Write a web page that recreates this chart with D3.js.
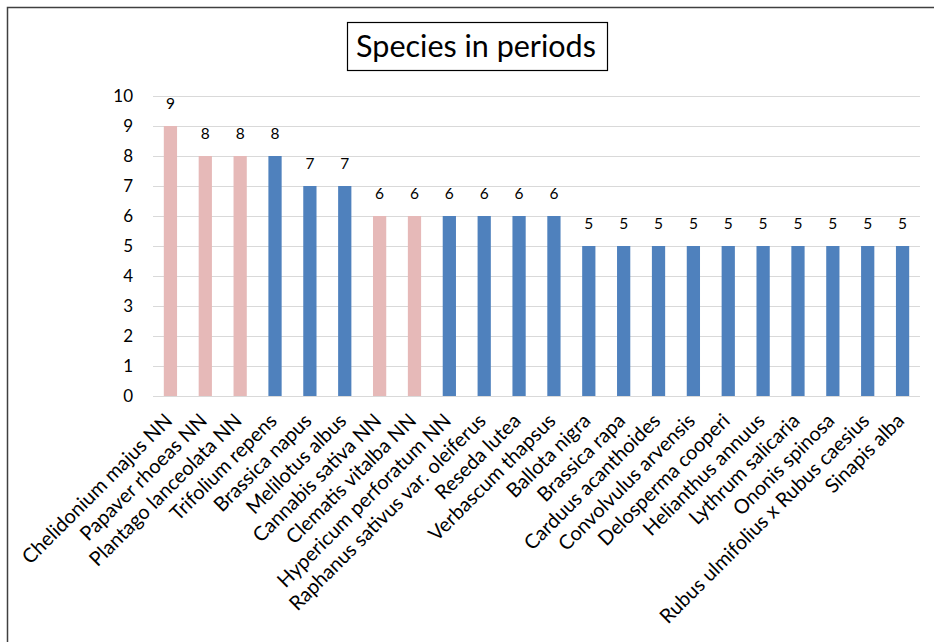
<!DOCTYPE html>
<html>
<head>
<meta charset="utf-8">
<script src="https://cdn.jsdelivr.net/npm/d3@7"></script>
<style>
  body { margin: 0; background: #fff; }
  text { font-family: Lato, "Open Sans", sans-serif; fill: #000; }
</style>
</head>
<body>
<div class="chart"></div>
<script>
// Chart data
var species = ["Chelidonium majus NN", "Papaver rhoeas NN", "Plantago lanceolata NN", "Trifolium repens",
  "Brassica napus", "Melilotus albus", "Cannabis sativa NN", "Clematis vitalba NN", "Hypericum perforatum NN",
  "Raphanus sativus var. oleiferus", "Reseda lutea", "Verbascum thapsus", "Ballota nigra", "Brassica rapa",
  "Carduus acanthoides", "Convolvulus arvensis", "Delosperma cooperi", "Helianthus annuus", "Lythrum salicaria",
  "Ononis spinosa", "Rubus ulmifolius x Rubus caesius", "Sinapis alba"];
var counts = [9, 8, 8, 8, 7, 7, 6, 6, 6, 6, 6, 6, 5, 5, 5, 5, 5, 5, 5, 5, 5, 5];
var groups = ["pink", "pink", "pink", "blue", "blue", "blue", "pink", "pink", "blue", "blue", "blue", "blue",
  "blue", "blue", "blue", "blue", "blue", "blue", "blue", "blue", "blue", "blue"];
var yTicks = [0, 1, 2, 3, 4, 5, 6, 7, 8, 9, 10];

var width = 934, height = 642;
var margin = { top: 96, left: 153, right: 14, bottom: 246 };

var color = d3.scaleOrdinal().domain(["pink", "blue"]).range(["#E6B9B8", "#4F81BD"]);

var svg = d3.select(".chart").append("svg")
  .attr("width", width)
  .attr("height", height);

// outer frame (only left and top show in the picture)
svg.append("rect")
  .attr("x", 7.5).attr("y", 7.5)
  .attr("width", width + 20).attr("height", height + 20)
  .attr("fill", "none").attr("stroke", "#404040").attr("stroke-width", 1.5);

// title box
svg.append("rect")
  .attr("x", 347.5).attr("y", 22.5)
  .attr("width", 260).attr("height", 48)
  .attr("fill", "#fff").attr("stroke", "#000").attr("stroke-width", 1.2);
svg.append("text")
  .attr("x", 476).attr("y", 57)
  .attr("text-anchor", "middle")
  .style("font-size", "30.5px")
  .text("Species in periods");

var x = d3.scaleBand().domain(species).range([margin.left, width - margin.right]).paddingInner(0.62).paddingOuter(0.31);
var y = d3.scaleLinear().domain([0, 10]).range([height - margin.bottom, margin.top]);

// gridlines
svg.append("g").selectAll("line").data(yTicks).enter().append("line")
  .attr("x1", margin.left).attr("x2", width - margin.right)
  .attr("y1", function(d) { return Math.round(y(d)) + 0.5; })
  .attr("y2", function(d) { return Math.round(y(d)) + 0.5; })
  .attr("stroke", "#D9D9D9").attr("stroke-width", 1.2);

// y axis labels
var yAxis = d3.axisLeft(y).tickValues(yTicks).tickSize(0).tickPadding(0);
var yg = svg.append("g").attr("transform", "translate(" + (margin.left - 20) + ",0)").call(yAxis);
yg.select(".domain").remove();
yg.selectAll("text").style("font-size", "17px").style("font-family", "Lato, sans-serif").attr("fill", "#000");

// bars
var data = species.map(function(s, i) { return { name: s, value: counts[i], group: groups[i] }; });

svg.append("g").selectAll("rect").data(data).enter().append("rect")
  .attr("x", function(d) { return x(d.name); })
  .attr("y", function(d) { return y(d.value); })
  .attr("width", x.bandwidth())
  .attr("height", function(d) { return y(0) - y(d.value); })
  .attr("fill", function(d) { return color(d.group); });

// value labels
svg.append("g").selectAll("text").data(data).enter().append("text")
  .attr("x", function(d) { return x(d.name) + x.bandwidth() / 2; })
  .attr("y", function(d) { return y(d.value) - 17; })
  .attr("text-anchor", "middle")
  .style("font-size", "15.5px")
  .text(function(d) { return d.value; });

// x axis labels, rotated
svg.append("g").selectAll("text").data(data).enter().append("text")
  .attr("transform", function(d) {
    return "translate(" + (x(d.name) + x.bandwidth() / 2 + 3) + "," + (y(0) + 26) + ") rotate(-45)";
  })
  .attr("text-anchor", "end")
  .style("font-size", "20px")
  .text(function(d) { return d.name; });
</script>
</body>
</html>
